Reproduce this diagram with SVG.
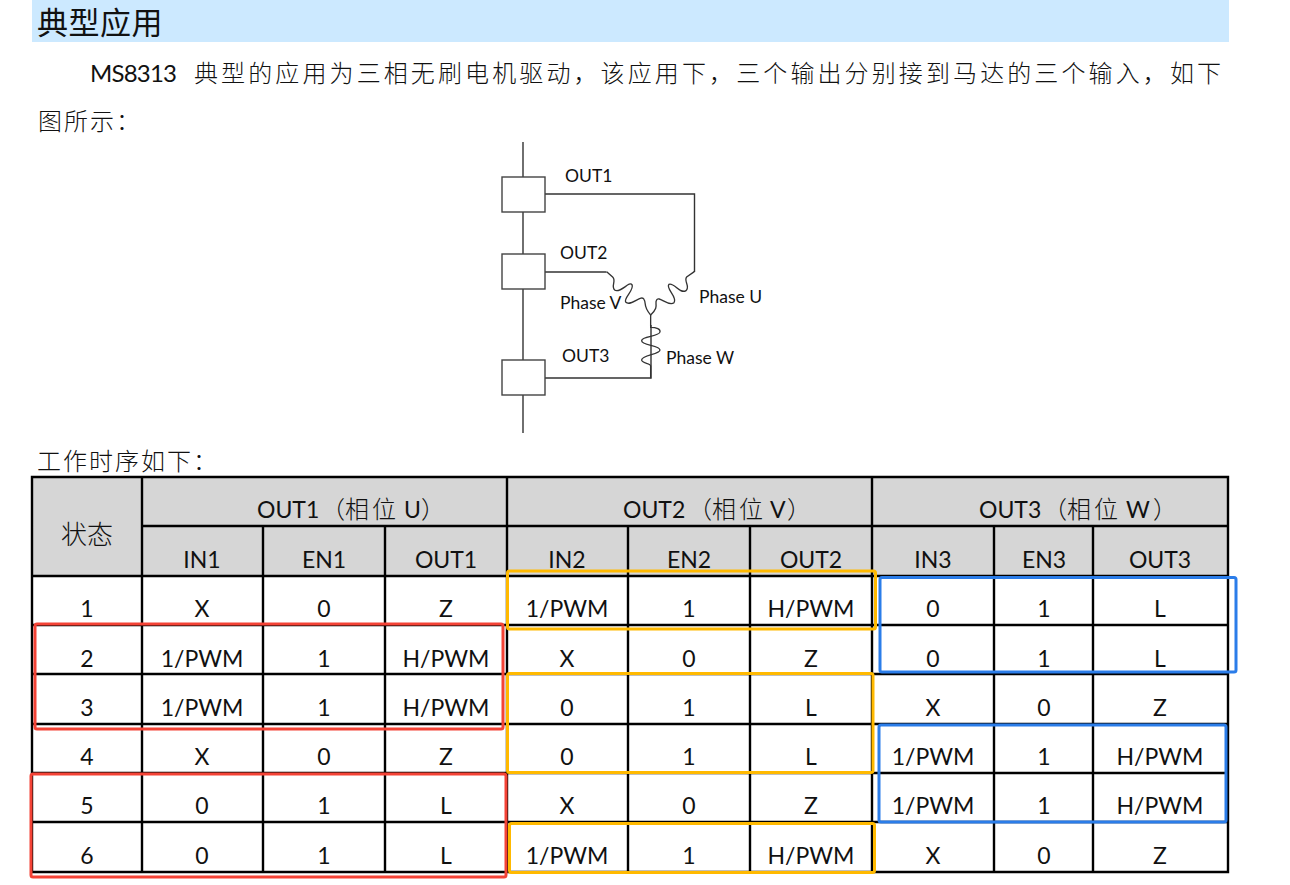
<svg xmlns="http://www.w3.org/2000/svg" width="1290" height="885" viewBox="0 0 1290 885">
<style>
text{font-family:"Lato","Noto Sans CJK SC",sans-serif;fill:#111}
.cjk{font-family:"Noto Sans CJK SC",sans-serif;font-size:24px;letter-spacing:3px;font-weight:300}
.lat{font-size:24px}
.c{font-size:23px;text-anchor:middle}
.h{font-size:23px}
.hz{font-family:"Noto Sans CJK SC",sans-serif;font-size:24px;font-weight:300}
.d{font-size:17.500px}
.grid{stroke:#000;stroke-width:2.400;fill:none}
.wire{stroke:#333;stroke-width:1.400;fill:none}
.box{stroke:#444;stroke-width:1.400;fill:#fff}
.r{fill:none;stroke:#f44336;stroke-width:3}
.y{fill:none;stroke:#ffb900;stroke-width:3}
.b{fill:none;stroke:#2b7de9;stroke-width:3}
</style>
<rect width="1290" height="885" fill="#fff"/>
<g id="heading">
<rect x="32" y="0" width="1197" height="42" fill="#cce9ff"/>
<text x="37" y="34" style="font-family:'Noto Sans CJK SC',sans-serif;font-size:31px;letter-spacing:.5px">典型应用</text>
</g>
<g id="intro">
<text x="90" y="82" class="lat" textLength="87">MS8313</text>
<text x="194" y="82" class="cjk" textLength="1030">典型的应用为三相无刷电机驱动，该应用下，三个输出分别接到马达的三个输入，如下</text>
<text x="38" y="130" class="cjk" style="letter-spacing:2px">图所示：</text>
</g>
<g id="connectors">
<path class="wire" d="M523 142V433"/>
<path class="wire" d="M545 194H694.500V272"/>
<path class="wire" d="M545 272H606.500"/>
<path class="wire" d="M545 378H651V325"/>
<g transform="translate(480 130) scale(.3333)" class="wire" style="stroke-width:4">
<path d="M643 425L620 441C610 452 632 470 618 482C600 494 582 456 567 463C555 475 594 500 582 518C566 532 536 496 530 510C522 522 540 528 512 555"/>
<path d="M380 425L398 441C410 452 392 468 404 480C420 492 448 452 456 464C464 480 430 504 437 516C452 532 484 492 492 508C500 520 488 528 512 555"/>
<path d="M512 555V592C530 592 542 598 540 606C538 620 485 618 485 632C485 646 540 646 540 660C540 674 485 674 485 690C485 700 512 700 512 708V745"/>
</g>
</g>
<g id="switch1"><rect class="box" x="502" y="177" width="43" height="35"/><text class="d" x="565" y="182">OUT1</text></g>
<g id="switch2"><rect class="box" x="502" y="254" width="43" height="35"/><text class="d" x="560" y="259">OUT2</text></g>
<g id="switch3"><rect class="box" x="502" y="360" width="43" height="35"/><text class="d" x="562" y="362">OUT3</text></g>
<g id="phases">
<text class="d" x="560" y="309">Phase V</text>
<text class="d" x="699" y="303">Phase U</text>
<text class="d" x="666" y="364">Phase W</text>
</g>
<text x="37" y="470" class="cjk" style="letter-spacing:2px">工作时序如下：</text>
<g id="table">
<rect x="32" y="477" width="1196" height="99" fill="#d6d6d6"/>
<path class="grid" d="M32 477H1228V872H32ZM142 477V872M507 477V872M872 477V872M263 526V872M385 526V872M628 526V872M750 526V872M994 526V872M1093 526V872M142 526H1228M32 576H1228M32 625H1228M32 674H1228M32 724H1228M32 773H1228M32 822H1228"/>
<text x="61" y="544" style="font-family:'Noto Sans CJK SC',sans-serif;font-size:26px;font-weight:300">状态</text>
<text y="518" class="h"><tspan x="257">OUT1</tspan><tspan x="321" class="hz">（相</tspan><tspan x="372" class="hz">位</tspan><tspan x="404">U</tspan><tspan x="421" class="hz">）</tspan></text>
<text y="518" class="h"><tspan x="623">OUT2</tspan><tspan x="688" class="hz">（相</tspan><tspan x="739" class="hz">位</tspan><tspan x="770">V</tspan><tspan x="787" class="hz">）</tspan></text>
<text y="518" class="h"><tspan x="979">OUT3</tspan><tspan x="1043" class="hz">（相</tspan><tspan x="1094" class="hz">位</tspan><tspan x="1126">W</tspan><tspan x="1153" class="hz">）</tspan></text>
<g>
<text class="c" x="202" y="568">IN1</text><text class="c" x="324" y="568">EN1</text><text class="c" x="446" y="568">OUT1</text><text class="c" x="567" y="568">IN2</text><text class="c" x="689" y="568">EN2</text><text class="c" x="811" y="568">OUT2</text><text class="c" x="933" y="568">IN3</text><text class="c" x="1044" y="568">EN3</text><text class="c" x="1160" y="568">OUT3</text>
<text class="c" x="87" y="617">1</text><text class="c" x="202" y="617">X</text><text class="c" x="324" y="617">0</text><text class="c" x="446" y="617">Z</text><text class="c" x="567" y="617">1/PWM</text><text class="c" x="689" y="617">1</text><text class="c" x="811" y="617">H/PWM</text><text class="c" x="933" y="617">0</text><text class="c" x="1044" y="617">1</text><text class="c" x="1160" y="617">L</text>
<text class="c" x="87" y="667">2</text><text class="c" x="202" y="667">1/PWM</text><text class="c" x="324" y="667">1</text><text class="c" x="446" y="667">H/PWM</text><text class="c" x="567" y="667">X</text><text class="c" x="689" y="667">0</text><text class="c" x="811" y="667">Z</text><text class="c" x="933" y="667">0</text><text class="c" x="1044" y="667">1</text><text class="c" x="1160" y="667">L</text>
<text class="c" x="87" y="716">3</text><text class="c" x="202" y="716">1/PWM</text><text class="c" x="324" y="716">1</text><text class="c" x="446" y="716">H/PWM</text><text class="c" x="567" y="716">0</text><text class="c" x="689" y="716">1</text><text class="c" x="811" y="716">L</text><text class="c" x="933" y="716">X</text><text class="c" x="1044" y="716">0</text><text class="c" x="1160" y="716">Z</text>
<text class="c" x="87" y="765">4</text><text class="c" x="202" y="765">X</text><text class="c" x="324" y="765">0</text><text class="c" x="446" y="765">Z</text><text class="c" x="567" y="765">0</text><text class="c" x="689" y="765">1</text><text class="c" x="811" y="765">L</text><text class="c" x="933" y="765">1/PWM</text><text class="c" x="1044" y="765">1</text><text class="c" x="1160" y="765">H/PWM</text>
<text class="c" x="87" y="814">5</text><text class="c" x="202" y="814">0</text><text class="c" x="324" y="814">1</text><text class="c" x="446" y="814">L</text><text class="c" x="567" y="814">X</text><text class="c" x="689" y="814">0</text><text class="c" x="811" y="814">Z</text><text class="c" x="933" y="814">1/PWM</text><text class="c" x="1044" y="814">1</text><text class="c" x="1160" y="814">H/PWM</text>
<text class="c" x="87" y="864">6</text><text class="c" x="202" y="864">0</text><text class="c" x="324" y="864">1</text><text class="c" x="446" y="864">L</text><text class="c" x="567" y="864">1/PWM</text><text class="c" x="689" y="864">1</text><text class="c" x="811" y="864">H/PWM</text><text class="c" x="933" y="864">X</text><text class="c" x="1044" y="864">0</text><text class="c" x="1160" y="864">Z</text>
</g>
</g>
<g id="highlights">
<rect class="r" x="35" y="624" width="468" height="105" rx="2"/>
<rect class="r" x="31" y="774" width="475" height="103" rx="2"/>
<rect class="y" x="507.500" y="571" width="368" height="58" rx="2"/>
<rect class="y" x="507.500" y="673.500" width="365.500" height="99" rx="2"/>
<rect class="y" x="509.500" y="823.500" width="365" height="49" rx="2"/>
<rect class="b" x="880" y="577.500" width="356" height="94.500" rx="2"/>
<rect class="b" x="879" y="725" width="347" height="97" rx="2"/>
</g>
</svg>
